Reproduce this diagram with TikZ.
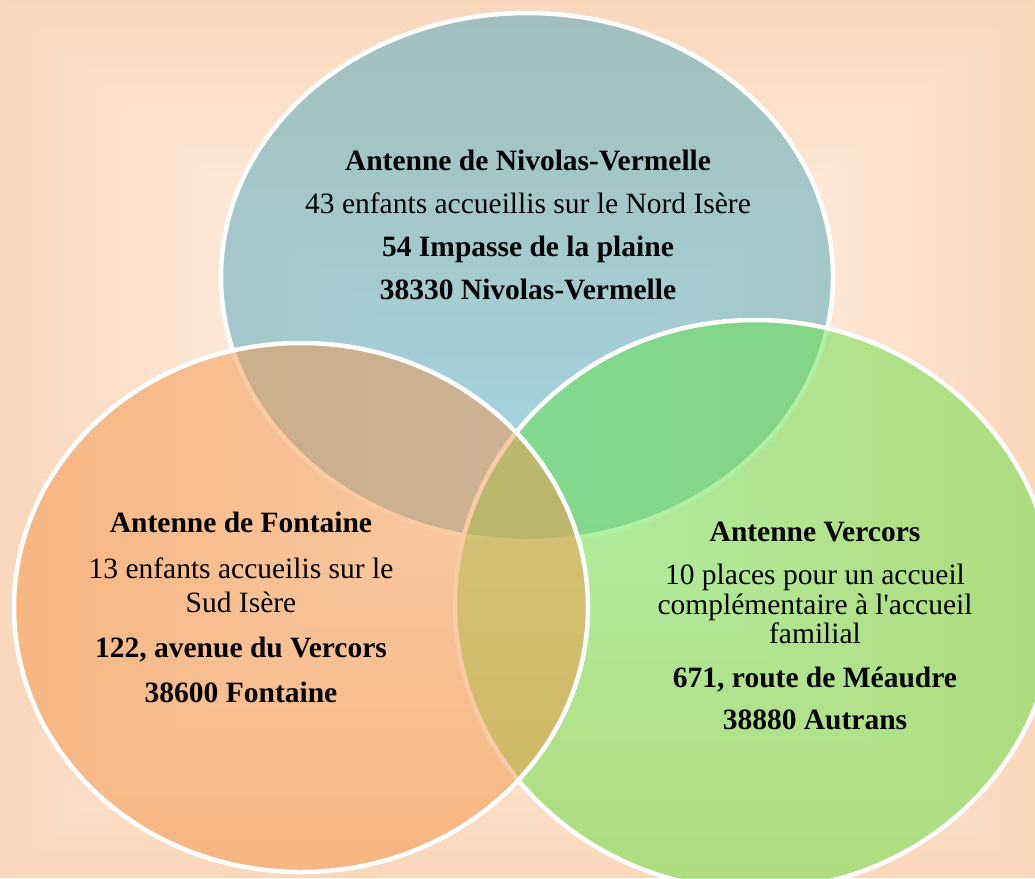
\documentclass[tikz,border=0pt]{standalone}
\usepackage{fontspec}
\setmainfont{Liberation Serif}
\usepackage{xcolor}
\definecolor{peach}{RGB}{251,215,186}
\definecolor{lagoon}{RGB}{75,167,189}
\definecolor{apricot}{RGB}{244,150,75}
\definecolor{meadow}{RGB}{100,225,70}
\usetikzlibrary{positioning}

\begin{document}
\begin{tikzpicture}[x=1pt,y=-1pt,
    venn/.style={draw=white,line width=4.5pt,fill opacity=0.5},
    vtext/.style={align=center,text=black,inner sep=0pt}]
\useasboundingbox (0,0) rectangle (1035,878);

% Background, white in the middle, peach at the edges
\fill[peach] (0,0) rectangle (1035,878);
\coordinate (mid) at (517.5,439);
\shade[top color=peach,bottom color=white] (0,0) -- (1035,0) -- (mid) -- cycle;
\shade[top color=white,bottom color=peach] (0,878) -- (1035,878) -- (mid) -- cycle;
\shade[left color=peach,right color=white] (0,0) -- (0,878) -- (mid) -- cycle;
\shade[left color=white,right color=peach] (1035,0) -- (1035,878) -- (mid) -- cycle;

% Circles: top one first, then right, then left
\filldraw[venn,fill=lagoon] (527,277) ellipse [x radius=306,y radius=264];
\filldraw[venn,fill=meadow] (755,605) ellipse [x radius=300,y radius=285];
\filldraw[venn,fill=apricot] (301,607.5) ellipse [x radius=287,y radius=264.5];

% Texts
\node[vtext,font={\fontsize{29.5}{33}\selectfont}] (nivolas) at (528,225)
    {\textbf{Antenne de Nivolas-Vermelle}\\[10pt]
     43 enfants accueillis sur le Nord Isère\\[10pt]
     \textbf{54 Impasse de la plaine}\\[10pt]
     \textbf{38330 Nivolas-Vermelle}};
\node[vtext,font={\fontsize{29.5}{34}\selectfont}] (fontaine) at (241,607.5)
    {\textbf{Antenne de Fontaine}\\[11.5pt]
     13 enfants accueilis sur le\\
     Sud Isère\\[11pt]
     \textbf{122, avenue du Vercors}\\[11.5pt]
     \textbf{38600 Fontaine}};
\node[vtext,font={\fontsize{29.5}{29.5}\selectfont}] (vercors) at (815,626)
    {\textbf{Antenne Vercors}\\[13.5pt]
     10 places pour un accueil\\
     complémentaire à l\textquotesingle accueil\\
     familial\\[14pt]
     \textbf{671, route de Méaudre}\\[12.5pt]
     \textbf{38880 Autrans}};
\end{tikzpicture}
\end{document}
